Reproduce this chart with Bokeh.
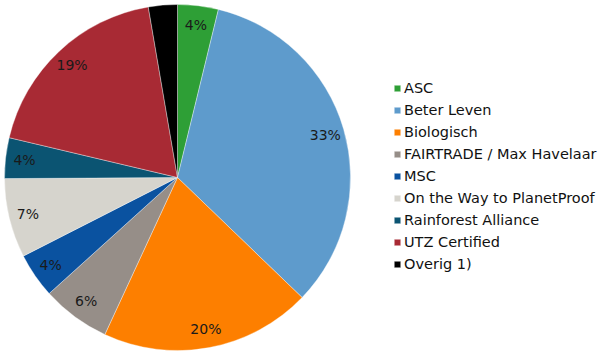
import math
from bokeh.plotting import figure
from bokeh.models import ColumnDataSource, Legend, LegendItem
from bokeh.embed import file_html
from bokeh.resources import INLINE
from bokeh.core.properties import value

categories = ["ASC", "Beter Leven", "Biologisch", "FAIRTRADE / Max Havelaar", "MSC",
              "On the Way to PlanetProof", "Rainforest Alliance", "UTZ Certified", "Overig 1)"]
shares = [3.8, 33.4, 19.7, 6.4, 4.2, 7.4, 3.8, 18.6, 2.7]
labels = ["4%", "33%", "20%", "6%", "4%", "7%", "4%", "19%", ""]
colors = ["#2e9f36", "#5e9bcc", "#fd7f00", "#968e88", "#0a52a0",
          "#d6d4cd", "#0b5472", "#a82a34", "#000000"]

W, H = 600, 351
cx, cy, r = 177, 351 - 177, 173

total = sum(shares)
starts, ends, lx, ly = [], [], [], []
cum = 0.0
for s in shares:
    a0 = math.pi / 2 - 2 * math.pi * cum / total
    cum += s
    a1 = math.pi / 2 - 2 * math.pi * cum / total
    starts.append(a0)
    ends.append(a1)
    mid = (a0 + a1) / 2
    lx.append(cx + 0.89 * r * math.cos(mid))
    ly.append(cy + 0.89 * r * math.sin(mid))

src = ColumnDataSource(dict(cat=categories, start=starts, end=ends, color=colors,
                            lx=lx, ly=ly, lab=labels))

p = figure(width=W, height=H, x_range=(0, W), y_range=(0, H),
           output_backend="svg", toolbar_location=None, min_border=0)
p.axis.visible = False
p.grid.visible = False
p.outline_line_color = None
p.background_fill_color = "white"

wr = p.wedge(x=cx, y=cy, radius=r, start_angle="start", end_angle="end",
             direction="clock", fill_color="color", line_color="white",
             line_width=0.6, line_alpha=0.6, source=src)

p.text(x="lx", y="ly", text="lab", source=src, text_align="center",
       text_baseline="middle", text_font=value("DejaVu Sans"),
       text_font_size="14px", text_color="#1a1a1a")

items = [LegendItem(label=c, renderers=[wr], index=i) for i, c in enumerate(categories)]
legend = Legend(items=items, location=(393, 76), orientation="vertical",
                glyph_width=8, glyph_height=8, label_standoff=3,
                label_height=22, spacing=0, padding=0, margin=0,
                label_text_font="DejaVu Sans", label_text_font_size="14.5px",
                label_text_color="#111111", border_line_alpha=0,
                background_fill_alpha=0)
p.add_layout(legend, "center")

open("out.html", "w").write(file_html(p, INLINE))
